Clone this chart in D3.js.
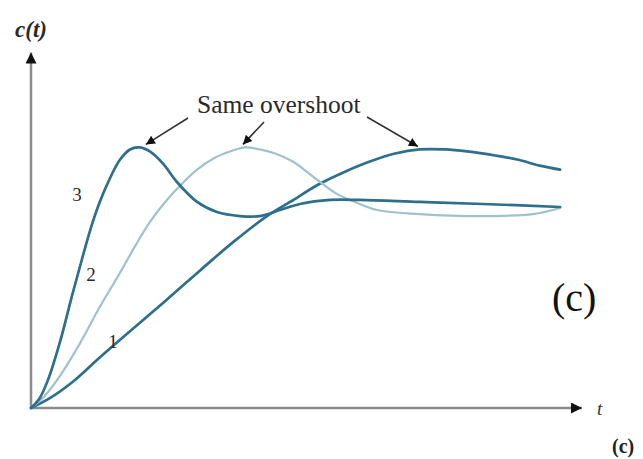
<!DOCTYPE html>
<html>
<head>
<meta charset="utf-8">
<script src="https://cdn.jsdelivr.net/npm/d3@7"></script>
<style>
  html, body { margin: 0; padding: 0; background: #fff; }
  svg { display: block; }
</style>
</head>
<body>
<svg id="chart" width="643" height="459"></svg>
<script>
// Step responses c(t) of three underdamped systems with equal damping
const time3 = [0, 0.16, 0.31, 0.53, 0.75, 0.95, 1.11, 1.25, 1.44, 1.62, 1.80, 1.98, 2.16, 2.40, 2.65, 3.02, 3.38, 3.80, 4.16, 4.53, 4.89, 5.44, 5.98, 7.07, 8.22, 9.62];
const resp3 = [0, 0.05, 0.14, 0.33, 0.56, 0.76, 0.91, 1.02, 1.14, 1.23, 1.28, 1.29, 1.27, 1.21, 1.12, 1.02, 0.97, 0.95, 0.95, 0.98, 1.01, 1.03, 1.03, 1.02, 1.01, 0.995];

const time2 = [0, 0.25, 0.53, 0.89, 1.25, 1.62, 1.89, 2.16, 2.44, 2.71, 3.02, 3.35, 3.62, 3.89, 4.16, 4.44, 4.76, 5.20, 5.56, 5.89, 6.29, 7.07, 8.22, 9.13, 9.62];
const resp2 = [0, 0.06, 0.16, 0.32, 0.50, 0.67, 0.80, 0.92, 1.02, 1.10, 1.18, 1.24, 1.27, 1.29, 1.28, 1.26, 1.22, 1.13, 1.06, 1.02, 0.98, 0.96, 0.95, 0.96, 0.99];

const time1 = [0, 0.35, 0.76, 1.25, 1.80, 2.40, 3.07, 3.67, 4.29, 4.71, 5.25, 5.71, 6.16, 6.62, 7.07, 7.53, 7.93, 8.44, 8.84, 9.25, 9.62];
const resp1 = [0, 0.05, 0.13, 0.25, 0.38, 0.52, 0.68, 0.82, 0.95, 1.02, 1.11, 1.17, 1.22, 1.26, 1.28, 1.28, 1.27, 1.25, 1.23, 1.20, 1.18];

const curveNames = ["1", "2", "3"];
const annotationText = "Same overshoot";
const serif = "'Liberation Serif', 'DejaVu Serif', serif";

const svg = d3.select("#chart").attr("font-family", serif);

const x = d3.scaleLinear().domain([0, 10]).range([31, 581]);
const y = d3.scaleLinear().domain([0, 1.75]).range([408, 54.5]);

const defs = svg.append("defs");
defs.append("marker")
  .attr("id", "head")
  .attr("viewBox", "0 0 10 10")
  .attr("refX", 10).attr("refY", 5)
  .attr("markerWidth", 14).attr("markerHeight", 9)
  .attr("markerUnits", "userSpaceOnUse")
  .attr("orient", "auto")
  .append("path").attr("d", "M0,0 L10,5 L0,10 Z").attr("fill", "#111");
defs.append("marker")
  .attr("id", "axisHead")
  .attr("viewBox", "0 0 10 10")
  .attr("refX", 10).attr("refY", 5)
  .attr("markerWidth", 20).attr("markerHeight", 11)
  .attr("markerUnits", "userSpaceOnUse")
  .attr("orient", "auto")
  .append("path").attr("d", "M0,0 L10,5 L0,10 Z").attr("fill", "#111");

// Axes with arrowheads
svg.append("line")
  .attr("x1", x(0)).attr("y1", y(0)).attr("x2", x(0)).attr("y2", y(1.75) - 2)
  .attr("stroke", "#8c8c8c").attr("stroke-width", 2.5)
  .attr("marker-end", "url(#axisHead)");
svg.append("line")
  .attr("x1", x(0)).attr("y1", y(0)).attr("x2", x(10) + 1).attr("y2", y(0))
  .attr("stroke", "#8c8c8c").attr("stroke-width", 2.5)
  .attr("marker-end", "url(#axisHead)");

svg.append("text")
  .attr("x", x(0)).attr("y", 37)
  .attr("text-anchor", "middle")
  .attr("font-family", serif)
  .attr("font-size", 23).attr("font-style", "italic").attr("font-weight", "bold")
  .attr("fill", "#2a2a2a")
  .text("c(t)");
svg.append("text")
  .attr("x", 597).attr("y", 415)
  .attr("font-family", serif)
  .attr("font-size", 19).attr("font-style", "italic")
  .attr("fill", "#333")
  .text("t");

const line = d3.line()
  .x(d => x(d[0]))
  .y(d => y(d[1]))
  .curve(d3.curveCatmullRom.alpha(0.5));

const series = [
  { name: curveNames[0], pts: d3.zip(time1, resp1), color: "#2d6f8c", width: 2.7 },
  { name: curveNames[1], pts: d3.zip(time2, resp2), color: "#a0c1cd", width: 2.2 },
  { name: curveNames[2], pts: d3.zip(time3, resp3), color: "#2d6f8c", width: 2.7 }
];

svg.selectAll("path.resp")
  .data(series)
  .join("path")
  .attr("class", "resp")
  .attr("d", d => line(d.pts))
  .attr("fill", "none")
  .attr("stroke", d => d.color)
  .attr("stroke-width", d => d.width)
  .attr("stroke-linejoin", "round")
  .attr("stroke-linecap", "round");

// Curve numbers placed beside each rising edge
const numberPos = [[113, 348], [91, 281], [77, 201]];
svg.selectAll("text.num")
  .data(series)
  .join("text")
  .attr("class", "num")
  .attr("x", (d, i) => numberPos[i][0])
  .attr("y", (d, i) => numberPos[i][1])
  .attr("text-anchor", "middle")
  .attr("font-family", serif)
  .attr("font-size", 19)
  .attr("fill", "#2a2a2a")
  .text(d => d.name);

// Annotation pointing at each peak
svg.append("text")
  .attr("x", 197).attr("y", 113)
  .attr("font-family", serif)
  .attr("font-size", 25.5)
  .attr("fill", "#2a2a2a")
  .text(annotationText);

const peaks = series.map(s => s.pts.reduce((a, b) => (b[1] > a[1] ? b : a)));
const arrowStarts = [[367, 117], [264, 122], [188, 118]];
const tipOffsets = [[-2, -3], [-2, -3], [6, -3]];
svg.selectAll("line.pointer")
  .data(peaks)
  .join("line")
  .attr("class", "pointer")
  .attr("x1", (d, i) => arrowStarts[i][0])
  .attr("y1", (d, i) => arrowStarts[i][1])
  .attr("x2", (d, i) => x(d[0]) + tipOffsets[i][0])
  .attr("y2", (d, i) => y(d[1]) + tipOffsets[i][1])
  .attr("stroke", "#333")
  .attr("stroke-width", 1.6)
  .attr("marker-end", "url(#head)");

svg.append("text")
  .attr("x", 552).attr("y", 311)
  .attr("font-family", serif)
  .attr("font-size", 40)
  .attr("fill", "#111")
  .text("(c)");

svg.append("text")
  .attr("x", 612).attr("y", 453)
  .attr("font-family", serif)
  .attr("font-size", 20).attr("font-weight", "bold")
  .attr("fill", "#222")
  .text("(c)");
</script>
</body>
</html>
